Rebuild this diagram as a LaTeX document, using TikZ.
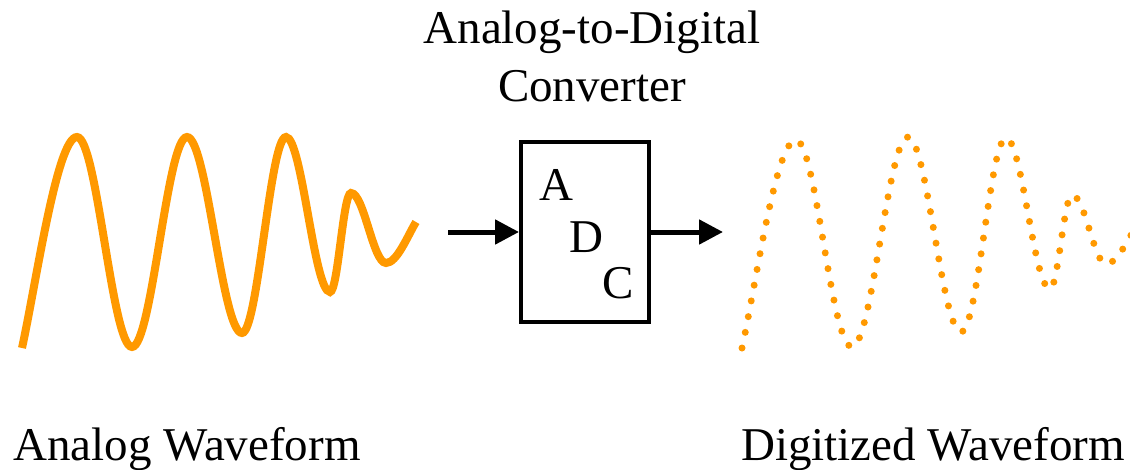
\documentclass[tikz,border=0pt]{standalone}
\usepackage{fontspec}
\setmainfont{Liberation Serif}
\usetikzlibrary{arrows.meta}
\definecolor{waveorange}{RGB}{255,153,0}

\begin{document}
\begin{tikzpicture}[x=1pt,y=-1pt,
  every node/.style={font=\fontsize{47}{58}\selectfont, inner sep=0pt},
  analog/.style={waveorange, line width=8pt},
  digital/.style={waveorange, line width=7pt, line cap=round, dash pattern=on 0pt off 16pt},
  flow/.style={line width=5pt, -{Triangle[length=24pt,width=24pt]}}]
\useasboundingbox (0,0) rectangle (1130,469);
% analog input
\draw[analog] (22,348) .. controls (36,284) and (57,137) .. (77,137)
  .. controls (97,137) and (112,347) .. (132,347)
  .. controls (152,347) and (167,137) .. (187,137)
  .. controls (207,137) and (222,333) .. (242,333)
  .. controls (258,333) and (270,137) .. (286,137)
  .. controls (302,137) and (314,292) .. (330,292)
  .. controls (338,292) and (343,193) .. (351,193)
  .. controls (364,193) and (373,263) .. (386,263)
  .. controls (397,263) and (408,235) .. (416,222);
% digitized output
\draw[digital] (742,348) .. controls (756,284) and (776,140) .. (796,140)
  .. controls (816,140) and (831,347) .. (852,347)
  .. controls (872,347) and (888,137) .. (908,137)
  .. controls (927,137) and (942,332) .. (961,332)
  .. controls (978,332) and (990,138) .. (1006,138)
  .. controls (1022,138) and (1034,289) .. (1050,289)
  .. controls (1058,289) and (1064,195) .. (1072,195)
  .. controls (1085,195) and (1094,264) .. (1106,264)
  .. controls (1116,264) and (1125,245) .. (1134,230);
% converter block
\node[draw, line width=4pt, minimum width=128pt, minimum height=180pt] (adc) at (585,232) {};
\node[anchor=base] (adcA) at (556,200) {A};
\node[anchor=base] (adcD) at (586,252) {D};
\node[anchor=base] (adcC) at (618,298) {C};
\coordinate (in) at (448,232);
\coordinate (out) at (723,232);
\draw[flow] (in) -- (adc.west);
\draw[flow] (adc.east) -- (out);
% labels
\node[anchor=base, align=center] (title) at (592,101) {Analog-to-Digital\\Converter};
\node[anchor=base] (inlabel) at (187,460) {Analog Waveform};
\node[anchor=base] (outlabel) at (933,460) {Digitized Waveform};
\end{tikzpicture}
\end{document}
